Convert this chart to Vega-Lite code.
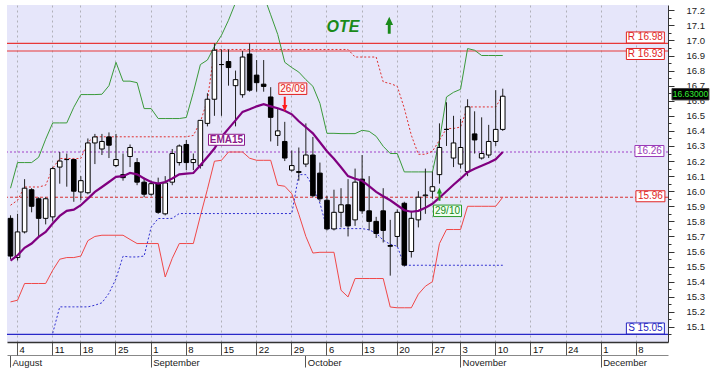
{
"$schema": "https://vega.github.io/schema/vega-lite/v6.json",
"width": 661, "height": 337,
"autosize": {"type": "none"},
"padding": {"left": 7, "top": 5, "right": 49, "bottom": 36},
"background": "white",
"config": {"view": {"fill": "#e6e6fa", "stroke": null}, "font": "Liberation Sans"},
"datasets": {
"px": [
{"d":"2014-08-01","o":15.82,"h":15.84,"l":15.55,"c":15.57,"ema":15.54,"up":16.02,"lo":15.266,"hh":15.907,"ll":null},
{"d":"2014-08-04","o":15.56,"h":15.85,"l":15.54,"c":15.73,"ema":15.575,"up":16.19,"lo":15.277,"hh":15.94,"ll":null},
{"d":"2014-08-05","o":15.73,"h":16.08,"l":15.72,"c":16.02,"ema":15.625,"up":16.19,"lo":15.388,"hh":16.028,"ll":null},
{"d":"2014-08-06","o":16.01,"h":16.02,"l":15.86,"c":15.90,"ema":15.653,"up":16.19,"lo":15.388,"hh":16.028,"ll":null},
{"d":"2014-08-07","o":15.95,"h":15.96,"l":15.70,"c":15.82,"ema":15.697,"up":16.225,"lo":15.388,"hh":16.028,"ll":null},
{"d":"2014-08-08","o":15.82,"h":15.96,"l":15.78,"c":15.95,"ema":15.73,"up":16.345,"lo":15.388,"hh":16.04,"ll":null},
{"d":"2014-08-11","o":15.83,"h":16.16,"l":15.80,"c":16.15,"ema":15.786,"up":16.453,"lo":15.476,"hh":16.152,"ll":15.058},
{"d":"2014-08-12","o":16.16,"h":16.26,"l":16.05,"c":16.20,"ema":15.836,"up":16.453,"lo":15.549,"hh":16.217,"ll":15.233},
{"d":"2014-08-13","o":16.21,"h":16.25,"l":16.03,"c":16.21,"ema":15.87,"up":16.453,"lo":15.56,"hh":16.217,"ll":15.233},
{"d":"2014-08-14","o":16.21,"h":16.21,"l":15.93,"c":16.00,"ema":15.878,"up":16.557,"lo":15.56,"hh":16.217,"ll":15.233},
{"d":"2014-08-18","o":15.995,"h":16.10,"l":15.94,"c":16.07,"ema":15.907,"up":16.641,"lo":15.57,"hh":16.217,"ll":15.233},
{"d":"2014-08-19","o":15.99,"h":16.35,"l":15.98,"c":16.32,"ema":15.951,"up":16.641,"lo":15.672,"hh":16.327,"ll":15.233},
{"d":"2014-08-20","o":16.32,"h":16.38,"l":16.18,"c":16.36,"ema":15.995,"up":16.641,"lo":15.70,"hh":16.361,"ll":15.244},
{"d":"2014-08-21","o":16.28,"h":16.38,"l":16.24,"c":16.33,"ema":16.028,"up":16.643,"lo":15.708,"hh":16.361,"ll":15.26},
{"d":"2014-08-22","o":16.36,"h":16.39,"l":16.22,"c":16.305,"ema":16.061,"up":16.70,"lo":15.708,"hh":16.361,"ll":15.323},
{"d":"2014-08-25","o":16.17,"h":16.38,"l":16.16,"c":16.21,"ema":16.095,"up":16.855,"lo":15.708,"hh":16.361,"ll":15.42},
{"d":"2014-08-26","o":16.11,"h":16.25,"l":16.07,"c":16.09,"ema":16.10,"up":16.73,"lo":15.708,"hh":16.361,"ll":15.569},
{"d":"2014-08-27","o":16.23,"h":16.31,"l":16.16,"c":16.29,"ema":16.121,"up":16.73,"lo":15.68,"hh":16.361,"ll":15.564},
{"d":"2014-08-28","o":16.19,"h":16.22,"l":16.04,"c":16.06,"ema":16.112,"up":16.72,"lo":15.653,"hh":16.361,"ll":15.564},
{"d":"2014-08-29","o":16.06,"h":16.09,"l":15.96,"c":15.98,"ema":16.084,"up":16.548,"lo":15.653,"hh":16.361,"ll":15.57},
{"d":"2014-09-01","o":15.98,"h":16.07,"l":15.97,"c":16.05,"ema":16.061,"up":16.548,"lo":15.653,"hh":16.361,"ll":15.761},
{"d":"2014-09-02","o":16.05,"h":16.09,"l":15.85,"c":15.86,"ema":16.051,"up":16.482,"lo":15.653,"hh":16.361,"ll":15.819},
{"d":"2014-09-03","o":15.85,"h":16.10,"l":15.84,"c":16.055,"ema":16.061,"up":16.482,"lo":15.431,"hh":16.361,"ll":15.819},
{"d":"2014-09-04","o":16.06,"h":16.28,"l":16.04,"c":16.25,"ema":16.084,"up":16.482,"lo":15.555,"hh":16.361,"ll":15.82},
{"d":"2014-09-05","o":16.19,"h":16.31,"l":16.17,"c":16.30,"ema":16.112,"up":16.482,"lo":15.653,"hh":16.361,"ll":15.852},
{"d":"2014-09-08","o":16.31,"h":16.34,"l":16.14,"c":16.19,"ema":16.117,"up":16.489,"lo":15.653,"hh":16.361,"ll":15.852},
{"d":"2014-09-09","o":16.19,"h":16.25,"l":16.14,"c":16.21,"ema":16.121,"up":16.656,"lo":15.653,"hh":16.37,"ll":15.852},
{"d":"2014-09-10","o":16.17,"h":16.47,"l":16.15,"c":16.47,"ema":16.172,"up":16.84,"lo":15.836,"hh":16.46,"ll":15.852},
{"d":"2014-09-11","o":16.45,"h":16.65,"l":16.43,"c":16.61,"ema":16.227,"up":16.87,"lo":16.013,"hh":16.603,"ll":15.852},
{"d":"2014-09-12","o":16.61,"h":16.98,"l":16.50,"c":16.935,"ema":16.283,"up":16.96,"lo":16.199,"hh":16.94,"ll":15.852},
{"d":"2014-09-15","o":16.84,"h":16.94,"l":16.50,"c":16.84,"ema":16.36,"up":17.034,"lo":16.205,"hh":16.94,"ll":15.852},
{"d":"2014-09-16","o":16.86,"h":16.94,"l":16.70,"c":16.82,"ema":16.415,"up":17.134,"lo":16.26,"hh":16.94,"ll":15.852},
{"d":"2014-09-17","o":16.70,"h":16.80,"l":16.43,"c":16.74,"ema":16.47,"up":17.25,"lo":16.26,"hh":16.94,"ll":15.852},
{"d":"2014-09-18","o":16.64,"h":16.93,"l":16.62,"c":16.89,"ema":16.526,"up":17.33,"lo":16.26,"hh":16.94,"ll":15.852},
{"d":"2014-09-19","o":16.91,"h":16.98,"l":16.66,"c":16.67,"ema":16.543,"up":17.37,"lo":16.219,"hh":16.94,"ll":15.852},
{"d":"2014-09-22","o":16.77,"h":16.87,"l":16.66,"c":16.72,"ema":16.563,"up":17.37,"lo":16.205,"hh":16.94,"ll":15.852},
{"d":"2014-09-23","o":16.71,"h":16.87,"l":16.66,"c":16.695,"ema":16.577,"up":17.30,"lo":16.205,"hh":16.94,"ll":15.852},
{"d":"2014-09-24","o":16.625,"h":16.69,"l":16.33,"c":16.49,"ema":16.563,"up":17.17,"lo":16.205,"hh":16.94,"ll":15.852},
{"d":"2014-09-25","o":16.37,"h":16.55,"l":16.30,"c":16.40,"ema":16.55,"up":17.04,"lo":16.04,"hh":16.94,"ll":15.852},
{"d":"2014-09-26","o":16.33,"h":16.46,"l":16.20,"c":16.22,"ema":16.534,"up":16.855,"lo":16.033,"hh":16.94,"ll":15.852},
{"d":"2014-09-29","o":16.14,"h":16.27,"l":16.13,"c":16.17,"ema":16.51,"up":16.82,"lo":15.983,"hh":16.94,"ll":15.852},
{"d":"2014-09-30","o":16.13,"h":16.29,"l":16.07,"c":16.125,"ema":16.464,"up":16.79,"lo":15.847,"hh":16.94,"ll":16.11},
{"d":"2014-10-01","o":16.18,"h":16.45,"l":16.16,"c":16.24,"ema":16.424,"up":16.74,"lo":15.70,"hh":16.94,"ll":16.11},
{"d":"2014-10-02","o":16.24,"h":16.36,"l":15.96,"c":15.97,"ema":16.384,"up":16.696,"lo":15.59,"hh":16.94,"ll":16.033},
{"d":"2014-10-03","o":16.12,"h":16.19,"l":15.93,"c":15.95,"ema":16.325,"up":16.583,"lo":15.595,"hh":16.94,"ll":15.92},
{"d":"2014-10-06","o":15.94,"h":15.97,"l":15.74,"c":15.75,"ema":16.265,"up":16.384,"lo":15.595,"hh":16.94,"ll":15.752},
{"d":"2014-10-07","o":15.75,"h":16.01,"l":15.74,"c":15.86,"ema":16.215,"up":16.384,"lo":15.595,"hh":16.94,"ll":15.752},
{"d":"2014-10-08","o":15.86,"h":16.02,"l":15.76,"c":15.91,"ema":16.159,"up":16.382,"lo":15.343,"hh":16.94,"ll":15.752},
{"d":"2014-10-09","o":15.91,"h":16.08,"l":15.70,"c":15.77,"ema":16.10,"up":16.382,"lo":15.299,"hh":16.94,"ll":15.752},
{"d":"2014-10-10","o":15.81,"h":16.15,"l":15.77,"c":16.06,"ema":16.083,"up":16.382,"lo":15.421,"hh":16.89,"ll":15.752},
{"d":"2014-10-13","o":16.08,"h":16.24,"l":15.85,"c":15.87,"ema":16.069,"up":16.404,"lo":15.421,"hh":16.89,"ll":15.752},
{"d":"2014-10-14","o":15.87,"h":16.10,"l":15.74,"c":15.80,"ema":16.033,"up":16.397,"lo":15.421,"hh":16.89,"ll":15.744},
{"d":"2014-10-15","o":15.80,"h":15.83,"l":15.69,"c":15.72,"ema":15.996,"up":16.364,"lo":15.421,"hh":16.89,"ll":15.721},
{"d":"2014-10-16","o":15.87,"h":16.02,"l":15.66,"c":15.74,"ema":15.967,"up":16.298,"lo":15.421,"hh":16.725,"ll":15.675},
{"d":"2014-10-17","o":15.64,"h":15.81,"l":15.44,"c":15.635,"ema":15.94,"up":16.25,"lo":15.232,"hh":16.714,"ll":15.648},
{"d":"2014-10-20","o":15.70,"h":15.88,"l":15.63,"c":15.86,"ema":15.907,"up":16.25,"lo":15.227,"hh":16.696,"ll":15.635},
{"d":"2014-10-21","o":15.92,"h":15.93,"l":15.50,"c":15.51,"ema":15.874,"up":16.128,"lo":15.227,"hh":16.55,"ll":15.509},
{"d":"2014-10-22","o":15.60,"h":15.87,"l":15.56,"c":15.82,"ema":15.864,"up":16.128,"lo":15.227,"hh":16.371,"ll":15.509},
{"d":"2014-10-23","o":15.81,"h":16.00,"l":15.76,"c":15.96,"ema":15.87,"up":16.128,"lo":15.317,"hh":16.245,"ll":15.509},
{"d":"2014-10-24","o":15.97,"h":16.15,"l":15.85,"c":15.975,"ema":15.89,"up":16.128,"lo":15.37,"hh":16.245,"ll":15.509},
{"d":"2014-10-27","o":16.00,"h":16.13,"l":15.95,"c":16.03,"ema":15.917,"up":16.128,"lo":15.40,"hh":16.265,"ll":15.509},
{"d":"2014-10-29","o":16.11,"h":16.45,"l":16.05,"c":16.29,"ema":15.957,"up":16.338,"lo":15.653,"hh":16.338,"ll":15.509},
{"d":"2014-10-30","o":16.41,"h":16.59,"l":16.30,"c":16.41,"ema":16.0,"up":16.625,"lo":15.746,"hh":16.416,"ll":15.509},
{"d":"2014-10-31","o":16.22,"h":16.50,"l":16.16,"c":16.32,"ema":16.043,"up":16.656,"lo":15.746,"hh":16.416,"ll":15.509},
{"d":"2014-11-03","o":16.18,"h":16.48,"l":16.15,"c":16.29,"ema":16.083,"up":16.676,"lo":15.746,"hh":16.426,"ll":15.509},
{"d":"2014-11-04","o":16.13,"h":16.61,"l":16.10,"c":16.56,"ema":16.126,"up":16.946,"lo":15.90,"hh":16.559,"ll":15.509},
{"d":"2014-11-05","o":16.38,"h":16.53,"l":16.25,"c":16.34,"ema":16.149,"up":16.935,"lo":15.90,"hh":16.559,"ll":15.509},
{"d":"2014-11-06","o":16.22,"h":16.49,"l":16.21,"c":16.25,"ema":16.169,"up":16.90,"lo":15.90,"hh":16.559,"ll":15.509},
{"d":"2014-11-07","o":16.24,"h":16.44,"l":16.22,"c":16.33,"ema":16.189,"up":16.90,"lo":15.90,"hh":16.559,"ll":15.509},
{"d":"2014-11-10","o":16.33,"h":16.67,"l":16.30,"c":16.41,"ema":16.212,"up":16.90,"lo":15.90,"hh":16.559,"ll":15.509},
{"d":"2014-11-11","o":16.41,"h":16.68,"l":16.40,"c":16.63,"ema":16.26,"up":16.90,"lo":15.96,"hh":16.636,"ll":15.509}
],
"lv": [
{"name":"R1","value":16.98,"label":"R 16.98"},
{"name":"R2","value":16.93,"label":"R 16.93"},
{"name":"EMA","value":16.26,"label":"16.26"},
{"name":"LB","value":15.96,"label":"15.96"},
{"name":"S","value":15.05,"label":"S 15.05"}
]
},
"resolve": {"axis": {"x": "independent", "y": "independent"}},
"layer": [
{"data": {"name": "lv"}, "transform": [{"filter": "datum.name == 'R1' || datum.name == 'R2'"}],
 "mark": {"type": "rule", "color": "#e83838", "strokeWidth": 1.2},
 "encoding": {"y": {"field": "value", "type": "quantitative",
   "scale": {"domain": [15.0, 17.235], "nice": false, "zero": false},
   "axis": {"orient": "right", "title": null, "grid": false,
     "values": [15.1,15.2,15.3,15.4,15.5,15.6,15.7,15.8,15.9,16.0,16.1,16.2,16.3,16.4,16.5,16.6,16.7,16.8,16.9,17.0,17.1,17.2],
     "format": ".1f", "tickSize": 6,
     "tickColor": "#333", "domainColor": "#333", "labelPadding": 12, "labelFontSize": 9.5, "labelColor": "#222",
     "labelOverlap": false, "labelBound": false, "labelFlush": false}}}},
{"data": {"name": "lv"}, "transform": [{"filter": "datum.name == 'S'"}],
 "mark": {"type": "rule", "color": "#2828c8", "strokeWidth": 1.2},
 "encoding": {"y": {"field": "value", "type": "quantitative",
   "axis": {"orient": "right", "title": null, "grid": false, "labels": false, "domain": false,
     "values": [15.05,15.15,15.25,15.35,15.45,15.55,15.65,15.75,15.85,15.95,16.05,16.15,16.25,16.35,16.45,16.55,16.65,16.75,16.85,16.95,17.05,17.15],
     "tickSize": 3, "tickColor": "#333"}}}},
{"data": {"name": "lv"}, "transform": [{"filter": "datum.name == 'EMA'"}],
 "mark": {"type": "rule", "color": "#a040c8", "strokeWidth": 1, "strokeDash": [2, 2]},
 "encoding": {"y": {"field": "value", "type": "quantitative", "axis": null}}},
{"data": {"name": "lv"}, "transform": [{"filter": "datum.name == 'LB'"}],
 "mark": {"type": "rule", "color": "#d83030", "strokeWidth": 1, "strokeDash": [3, 2]},
 "encoding": {"y": {"field": "value", "type": "quantitative", "axis": null}}},
{"data": {"name": "px"},
 "mark": {"type": "line", "color": "#f04848", "strokeWidth": 1},
 "encoding": {"x": {"field": "d", "type": "ordinal", "axis": null}, "y": {"field": "lo", "type": "quantitative", "axis": null}}},
{"data": {"name": "px"},
 "mark": {"type": "line", "color": "#3a9a3a", "strokeWidth": 1, "clip": true},
 "encoding": {"x": {"field": "d", "type": "ordinal", "axis": null}, "y": {"field": "up", "type": "quantitative", "axis": null}}},
{"data": {"name": "px"},
 "mark": {"type": "line", "color": "#e03030", "strokeWidth": 1, "strokeDash": [2, 2]},
 "encoding": {"x": {"field": "d", "type": "ordinal", "axis": null}, "y": {"field": "hh", "type": "quantitative", "axis": null}}},
{"data": {"name": "px"},
 "mark": {"type": "line", "color": "#3030d0", "strokeWidth": 1, "strokeDash": [2, 2]},
 "encoding": {"x": {"field": "d", "type": "ordinal", "axis": null}, "y": {"field": "ll", "type": "quantitative", "axis": null}}},
{"data": {"name": "px"},
 "mark": {"type": "rule", "color": "#222", "strokeWidth": 1},
 "encoding": {"x": {"field": "d", "type": "ordinal",
   "axis": {"orient": "bottom", "offset": 13, "title": null,
     "values": ["2014-08-01","2014-09-01","2014-10-01","2014-11-03","2014-12-01"],
     "labelExpr": "substring(datum.value,5,7)=='08' ? 'August' : substring(datum.value,5,7)=='09' ? 'September' : substring(datum.value,5,7)=='10' ? 'October' : substring(datum.value,5,7)=='11' ? 'November' : 'December'",
     "bandPosition": 0.5, "grid": false, "tickSize": 12, "tickColor": "#555", "domainColor": "#888",
     "labelAlign": "left", "labelBaseline": "top", "labelPadding": -10, "labelOffset": 2, "labelAngle": 0,
     "labelFontSize": 9.5, "labelColor": "#222", "labelOverlap": false, "labelFlush": false, "labelBound": false}},
  "y": {"field": "l", "type": "quantitative", "axis": null}, "y2": {"field": "h"}}},
{"data": {"name": "px"},
 "mark": {"type": "bar", "width": {"band": 0.65}, "stroke": "#000", "strokeWidth": 1},
 "encoding": {"x": {"field": "d", "type": "ordinal",
   "scale": {"type": "band", "paddingInner": 0, "paddingOuter": 0, "domain": ["2014-08-01","2014-08-04","2014-08-05","2014-08-06","2014-08-07","2014-08-08","2014-08-11","2014-08-12","2014-08-13","2014-08-14","2014-08-18","2014-08-19","2014-08-20","2014-08-21","2014-08-22","2014-08-25","2014-08-26","2014-08-27","2014-08-28","2014-08-29","2014-09-01","2014-09-02","2014-09-03","2014-09-04","2014-09-05","2014-09-08","2014-09-09","2014-09-10","2014-09-11","2014-09-12","2014-09-15","2014-09-16","2014-09-17","2014-09-18","2014-09-19","2014-09-22","2014-09-23","2014-09-24","2014-09-25","2014-09-26","2014-09-29","2014-09-30","2014-10-01","2014-10-02","2014-10-03","2014-10-06","2014-10-07","2014-10-08","2014-10-09","2014-10-10","2014-10-13","2014-10-14","2014-10-15","2014-10-16","2014-10-17","2014-10-20","2014-10-21","2014-10-22","2014-10-23","2014-10-24","2014-10-27","2014-10-29","2014-10-30","2014-10-31","2014-11-03","2014-11-04","2014-11-05","2014-11-06","2014-11-07","2014-11-10","2014-11-11","2014-11-12","2014-11-13","2014-11-14","2014-11-17","2014-11-18","2014-11-19","2014-11-20","2014-11-21","2014-11-24","2014-11-25","2014-11-26","2014-11-27","2014-11-28","2014-12-01","2014-12-02","2014-12-03","2014-12-04","2014-12-05","2014-12-08","2014-12-09","2014-12-10","2014-12-11","2014-12-12"]},
   "axis": {"orient": "bottom", "title": null,
     "values": ["2014-08-04","2014-08-11","2014-08-18","2014-08-25","2014-09-01","2014-09-08","2014-09-15","2014-09-22","2014-09-29","2014-10-06","2014-10-13","2014-10-20","2014-10-27","2014-11-03","2014-11-10","2014-11-17","2014-11-24","2014-12-01","2014-12-08"],
     "labelExpr": "'' + toNumber(substring(datum.value,8,10))",
     "bandPosition": 0.5, "grid": true, "gridColor": "#b0b0b8", "gridDash": [2, 3], "gridWidth": 1,
     "tickSize": 13, "tickColor": "#555", "domainColor": "#333", "domainWidth": 1.5,
     "labelAlign": "left", "labelBaseline": "top", "labelPadding": -11, "labelOffset": 2, "labelAngle": 0,
     "labelFontSize": 9.5, "labelColor": "#111", "labelOverlap": false, "labelFlush": false, "labelBound": false}},
  "y": {"field": "o", "type": "quantitative", "axis": null}, "y2": {"field": "c"},
  "fill": {"condition": {"test": "datum.c >= datum.o", "value": "#ffffff"}, "value": "#000000"}}},
{"data": {"name": "px"},
 "mark": {"type": "line", "color": "#800080", "strokeWidth": 2.2},
 "encoding": {"x": {"field": "d", "type": "ordinal", "axis": null}, "y": {"field": "ema", "type": "quantitative", "axis": null}}},
{"data": {"values": [{"d": "2014-09-16", "v": 16.341, "t": "EMA15"}]},
 "encoding": {"x": {"field": "d", "type": "ordinal", "axis": null}, "y": {"field": "v", "type": "quantitative", "axis": null}},
 "layer": [
  {"mark": {"type": "point", "shape": "M-1,-0.306L1,-0.306L1,0.306L-1,0.306Z", "size": 1296, "filled": true, "fill": "#ffffff", "stroke": "#8b1a8b", "strokeWidth": 1, "opacity": 1, "xOffset": -2}},
  {"mark": {"type": "text", "color": "#8b1a8b", "fontWeight": "bold", "fontSize": 10, "xOffset": -2}, "encoding": {"text": {"field": "t"}}}
 ]},
{"data": {"values": [{"d": "2014-09-29", "v": 16.68, "t": "26/09"}]},
 "encoding": {"x": {"field": "d", "type": "ordinal", "axis": null}, "y": {"field": "v", "type": "quantitative", "axis": null}},
 "layer": [
  {"mark": {"type": "point", "shape": "M-1,-0.41L1,-0.41L1,0.41L-1,0.41Z", "size": 784, "filled": true, "fill": "#fff4f4", "stroke": "#e02020", "strokeWidth": 1, "opacity": 1, "xOffset": 1}},
  {"mark": {"type": "text", "color": "#e02020", "fontSize": 10, "xOffset": 1}, "encoding": {"text": {"field": "t"}}}
 ]},
{"data": {"values": [{"d": "2014-09-26", "v": 16.577}]},
 "mark": {"type": "point", "shape": "M-0.13,-1L0.13,-1L0.13,0.1L0.35,0.1L0,1L-0.35,0.1L-0.13,0.1Z", "size": 225, "filled": true, "fill": "#ff1a1a", "strokeWidth": 0, "opacity": 1},
 "encoding": {"x": {"field": "d", "type": "ordinal", "axis": null}, "y": {"field": "v", "type": "quantitative", "axis": null}}},
{"data": {"values": [{"d": "2014-10-30", "v": 15.87, "t": "29/10"}]},
 "encoding": {"x": {"field": "d", "type": "ordinal", "axis": null}, "y": {"field": "v", "type": "quantitative", "axis": null}},
 "layer": [
  {"mark": {"type": "point", "shape": "M-1,-0.41L1,-0.41L1,0.41L-1,0.41Z", "size": 784, "filled": true, "fill": "#f0fff0", "stroke": "#2a9a2a", "strokeWidth": 1, "opacity": 1, "xOffset": 1}},
  {"mark": {"type": "text", "color": "#1a8a1a", "fontSize": 10, "xOffset": 1}, "encoding": {"text": {"field": "t"}}}
 ]},
{"data": {"values": [{"d": "2014-10-29", "v": 15.98}]},
 "mark": {"type": "point", "shape": "M-0.16,1L0.16,1L0.16,-0.1L0.4,-0.1L0,-1L-0.4,-0.1L-0.16,-0.1Z", "size": 169, "filled": true, "fill": "#1f9a1f", "strokeWidth": 0, "opacity": 1},
 "encoding": {"x": {"field": "d", "type": "ordinal", "axis": null}, "y": {"field": "v", "type": "quantitative", "axis": null}}},
{"data": {"values": [{"d": "2014-10-08", "v": 17.087, "t": "OTE"}]},
 "mark": {"type": "text", "color": "#1a8a1a", "fontSize": 16, "fontWeight": "bold", "fontStyle": "italic", "xOffset": 2},
 "encoding": {"x": {"field": "d", "type": "ordinal", "axis": null}, "y": {"field": "v", "type": "quantitative", "axis": null}, "text": {"field": "t"}}},
{"data": {"values": [{"d": "2014-10-17", "v": 17.10}]},
 "mark": {"type": "point", "shape": "M-0.17,1L0.17,1L0.17,-0.05L0.45,-0.05L0,-1L-0.45,-0.05L-0.17,-0.05Z", "size": 289, "filled": true, "fill": "#1a8a1a", "strokeWidth": 0, "opacity": 1, "xOffset": -1},
 "encoding": {"x": {"field": "d", "type": "ordinal", "axis": null}, "y": {"field": "v", "type": "quantitative", "axis": null}}},
{"data": {"name": "lv"}, "transform": [{"filter": "datum.name == 'R1'"}],
 "encoding": {"x": {"datum": "2014-12-09", "type": "ordinal", "axis": null}, "y": {"field": "value", "type": "quantitative", "axis": null}},
 "layer": [
  {"mark": {"type": "point", "shape": "M-1,-0.29L1,-0.29L1,0.29L-1,0.29Z", "size": 1444, "filled": true, "fill": "#ffffff", "stroke": "#e02424", "strokeWidth": 1, "opacity": 1, "xOffset": 2, "yOffset": -6}},
  {"mark": {"type": "text", "color": "#e02424", "fontSize": 10, "xOffset": 2, "yOffset": -6}, "encoding": {"text": {"field": "label"}}}
 ]},
{"data": {"name": "lv"}, "transform": [{"filter": "datum.name == 'R2'"}],
 "encoding": {"x": {"datum": "2014-12-09", "type": "ordinal", "axis": null}, "y": {"field": "value", "type": "quantitative", "axis": null}},
 "layer": [
  {"mark": {"type": "point", "shape": "M-1,-0.29L1,-0.29L1,0.29L-1,0.29Z", "size": 1444, "filled": true, "fill": "#ffffff", "stroke": "#e02424", "strokeWidth": 1, "opacity": 1, "xOffset": 2, "yOffset": 3}},
  {"mark": {"type": "text", "color": "#e02424", "fontSize": 10, "xOffset": 2, "yOffset": 3}, "encoding": {"text": {"field": "label"}}}
 ]},
{"data": {"name": "lv"}, "transform": [{"filter": "datum.name == 'EMA'"}],
 "encoding": {"x": {"datum": "2014-12-10", "type": "ordinal", "axis": null}, "y": {"field": "value", "type": "quantitative", "axis": null}},
 "layer": [
  {"mark": {"type": "point", "shape": "M-1,-0.38L1,-0.38L1,0.38L-1,0.38Z", "size": 841, "filled": true, "fill": "#ffffff", "stroke": "#9a3ab8", "strokeWidth": 1, "opacity": 1, "xOffset": -1, "yOffset": -1}},
  {"mark": {"type": "text", "color": "#9a3ab8", "fontSize": 10, "xOffset": -1, "yOffset": -1}, "encoding": {"text": {"field": "label"}}}
 ]},
{"data": {"name": "lv"}, "transform": [{"filter": "datum.name == 'LB'"}],
 "encoding": {"x": {"datum": "2014-12-10", "type": "ordinal", "axis": null}, "y": {"field": "value", "type": "quantitative", "axis": null}},
 "layer": [
  {"mark": {"type": "point", "shape": "M-1,-0.38L1,-0.38L1,0.38L-1,0.38Z", "size": 841, "filled": true, "fill": "#ffffff", "stroke": "#e02424", "strokeWidth": 1, "opacity": 1, "xOffset": 0, "yOffset": -1}},
  {"mark": {"type": "text", "color": "#e02424", "fontSize": 10, "xOffset": 0, "yOffset": -1}, "encoding": {"text": {"field": "label"}}}
 ]},
{"data": {"name": "lv"}, "transform": [{"filter": "datum.name == 'S'"}],
 "encoding": {"x": {"datum": "2014-12-09", "type": "ordinal", "axis": null}, "y": {"field": "value", "type": "quantitative", "axis": null}},
 "layer": [
  {"mark": {"type": "point", "shape": "M-1,-0.29L1,-0.29L1,0.29L-1,0.29Z", "size": 1444, "filled": true, "fill": "#ffffff", "stroke": "#2424c0", "strokeWidth": 1, "opacity": 1, "xOffset": 2, "yOffset": -6}},
  {"mark": {"type": "text", "color": "#2424c0", "fontSize": 10, "xOffset": 2, "yOffset": -6}, "encoding": {"text": {"field": "label"}}}
 ]},
{"data": {"name": "px"}, "transform": [{"filter": "datum.d == '2014-11-11'"}],
 "encoding": {"x": {"datum": "2014-12-12", "type": "ordinal", "axis": null}, "y": {"field": "c", "type": "quantitative", "axis": null}},
 "layer": [
  {"mark": {"type": "point", "shape": "M-1,-0.31L1,-0.31L1,0.31L-1,0.31Z", "size": 1369, "filled": true, "fill": "#000000", "stroke": "#444", "strokeWidth": 1, "opacity": 1, "xOffset": 26, "yOffset": -2}},
  {"mark": {"type": "text", "color": "#33ee33", "fontSize": 8.5, "xOffset": 26, "yOffset": -2}, "encoding": {"text": {"field": "c", "format": ".5f"}}}
 ]}
]
}
